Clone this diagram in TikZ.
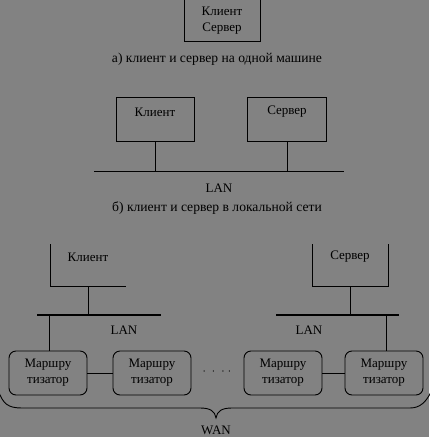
\documentclass[tikz,border=0pt]{standalone}
\usepackage{fontspec}
\setmainfont{Liberation Serif}
\tikzset{>=stealth}
\usetikzlibrary{shapes,positioning}
\colorlet{background}{black!49}
\colorlet{penColor}{black}

\tikzset{
	box/.style={draw=penColor, line width=0.9pt, minimum width=78pt, minimum height=44pt, inner sep=0pt},
	router/.style={box, rounded corners=7pt, align=center, font=\fontsize{13}{16}\selectfont},
	lbl/.style={penColor, font=\fontsize{13}{16}\selectfont, inner sep=0pt},
	capt/.style={penColor, font=\fontsize{13.6}{16}\selectfont, inner sep=0pt},
	lan/.style={penColor, line width=2pt},
	wire/.style={penColor, line width=0.9pt}
}

\begin{document}
\begin{tikzpicture}[x=1pt,y=-1pt]
				\fill[background] (0,0) rectangle (429,437);
				\useasboundingbox (0,0) rectangle (429,437);
				% a) one machine
				\node[box, minimum width=76pt] (host) at (222,19) {};
				\node[lbl, align=center] (hosttxt) at (222,21) {Клиент\\Сервер};
				\node[capt] (capA) at (217,59) {а) клиент и сервер на одной машине};
				% b) local network
				\node[box] (client) at (155,119) {};
				\node[box, minimum width=79pt] (server) at (286.5,119) {};
				\node[lbl] (clienttxt) at (155,112) {Клиент};
				\node[lbl] (servertxt) at (287,112) {Сервер};
				\coordinate (lanL) at (94,171);
				\coordinate (lanR) at (344,171);
				\draw[wire] (lanL) -- (lanR);
				\draw[wire] (client.south) -- (client.south |- lanL);
				\draw[wire] (server.south -| 287,0) -- (287,171);
				\node[lbl] (lanB) at (219,188) {LAN};
				\node[capt] (capB) at (217,208) {б) клиент и сервер в локальной сети};
				% c) WAN
				\draw[wire] (50,244) -- (50,286) -- (126,286);
				\draw[wire] (312,244) -- (312,286) -- (388,286) -- (388,244);
				\node[lbl] (wclient) at (88,257) {Клиент};
				\node[lbl] (wserver) at (350,257) {Сервер};
				\draw[lan] (37,315) -- (161,315);
				\draw[lan] (276,315) -- (399,315);
				\draw[wire] (88,286) -- (88,315);
				\draw[wire] (350,286) -- (350,315);
				\node[lbl] (lanC1) at (124,330) {LAN};
				\node[lbl] (lanC2) at (309,330) {LAN};
				\node[router] (r1) at (48,373) {Маршру\\тизатор};
				\node[router] (r2) at (152,373) {Маршру\\тизатор};
				\node[router] (r3) at (283,373) {Маршру\\тизатор};
				\node[router] (r4) at (384,373) {Маршру\\тизатор};
				\draw[wire] (49,315) -- (r1.north -| 49,0);
				\draw[wire] (386,315) -- (r4.north -| 386,0);
				\draw[wire] (r1) -- (r2);
				\draw[wire] (r3) -- (r4);
				\node[lbl] (dots) at (217,372) {$\cdot\;\cdot\;\cdot\;\cdot$};
				\draw[wire] (-2,390) .. controls (3,404) and (8,408) .. (22,408) -- (200,408)
					.. controls (210,408) and (215,411) .. (216,418)
					.. controls (217,411) and (222,408) .. (232,408) -- (410,408)
					.. controls (420,408) and (426,402) .. (431,392);
				\node[lbl] (wan) at (216,430) {WAN};
\end{tikzpicture}
\end{document}
